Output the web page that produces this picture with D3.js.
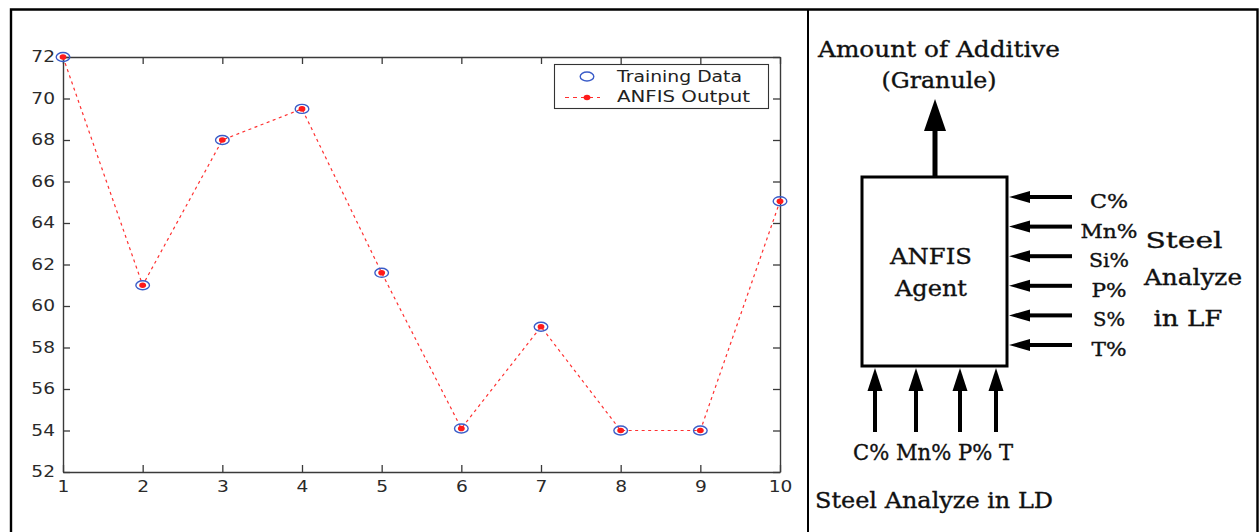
<!DOCTYPE html>
<html><head><meta charset="utf-8">
<script src="https://cdn.jsdelivr.net/npm/d3@7"></script>
<style>
html,body{margin:0;padding:0;background:#fff;}
svg{display:block;}
</style></head>
<body>
<svg id="fig" width="1259" height="532"></svg>
<script>
// ---- data ----
const xValues = [1,2,3,4,5,6,7,8,9,10];
const trainingData = [72, 61, 68, 69.5, 61.6, 54.1, 59, 54, 54, 65.05];
const anfisOutput  = [72, 61, 68, 69.5, 61.6, 54.1, 59, 54, 54, 65.05];
const xTicks = [1,2,3,4,5,6,7,8,9,10];
const yTicks = [52,54,56,58,60,62,64,66,68,70,72];
const legendLabels = ["Training Data", "ANFIS Output"];
// diagram labels
const lfInputs = ["C%", "Mn%", "Si%", "P%", "S%", "T%"];
const ldInputs = ["C%", "Mn%", "P%", "T"];

const svg = d3.select("#fig");

// outer frame (no bottom edge)
const frame = svg.append("g").attr("stroke","#000").attr("fill","none");
frame.append("path").attr("d","M11,532V9.5H1257.5V532").attr("stroke-width",2.4);
frame.append("line").attr("x1",808).attr("x2",808).attr("y1",9).attr("y2",532).attr("stroke-width",2);

// ---- chart ----
const x = d3.scaleLinear().domain([1,10]).range([63,780]);
const y = d3.scaleLinear().domain([52,72]).range([472,57]);
const axisColor = "#3a3a3a";

function stretch(sel, f){
  sel.each(function(){
    const w = this.getComputedTextLength();
    d3.select(this).attr("textLength", w*f).attr("lengthAdjust","spacingAndGlyphs");
  });
}

const gx = svg.append("g").attr("transform","translate(0,472)")
  .call(d3.axisBottom(x).tickValues(xTicks).tickFormat(d3.format("d")).tickSizeInner(-7).tickSizeOuter(0).tickPadding(9));
const gy = svg.append("g").attr("transform","translate(63,0)")
  .call(d3.axisLeft(y).tickValues(yTicks).tickFormat(d3.format("d")).tickSizeInner(-7).tickSizeOuter(0).tickPadding(8));
const gt = svg.append("g").attr("transform","translate(0,57)")
  .call(d3.axisTop(x).tickValues(xTicks).tickFormat("").tickSizeInner(-7).tickSizeOuter(0));
const gr = svg.append("g").attr("transform","translate(780,0)")
  .call(d3.axisRight(y).tickValues(yTicks).tickFormat("").tickSizeInner(-7).tickSizeOuter(0));
[gx,gy,gt,gr].forEach(g=>{
  g.select(".domain").attr("stroke",axisColor).attr("stroke-width",1.4);
  g.selectAll(".tick line").attr("stroke",axisColor).attr("stroke-width",1.3);
  g.selectAll("text").attr("fill","#2a2a2a").style("font-family","'DejaVu Sans'").style("font-size","15.5px");
});
stretch(gx.selectAll("text"), 1.2);
stretch(gy.selectAll("text"), 1.2);

// ANFIS output dashed line
const pts = xValues.map((d,i)=>({x:d, t:trainingData[i], a:anfisOutput[i]}));
svg.append("path").datum(pts)
  .attr("d", d3.line().x(d=>x(d.x)).y(d=>y(d.a)))
  .attr("fill","none").attr("stroke","#ff3030").attr("stroke-width",1.2).attr("stroke-dasharray","3,3.5");
// training markers
svg.append("g").selectAll("ellipse").data(pts).join("ellipse")
  .attr("cx",d=>x(d.x)).attr("cy",d=>y(d.t)).attr("rx",6.8).attr("ry",4.5)
  .attr("fill","none").attr("stroke","#3a5cc8").attr("stroke-width",1.4);
// output dots
svg.append("g").selectAll("ellipse").data(pts).join("ellipse")
  .attr("cx",d=>x(d.x)).attr("cy",d=>y(d.a)).attr("rx",3.4).attr("ry",2.8)
  .attr("fill","#ff1a1a");

// legend
const lg = svg.append("g");
lg.append("rect").attr("x",554.5).attr("y",64.5).attr("width",214).attr("height",44)
  .attr("fill","#fff").attr("stroke","#333").attr("stroke-width",1.1);
lg.append("ellipse").attr("cx",587).attr("cy",76.5).attr("rx",6.8).attr("ry",4.5)
  .attr("fill","none").attr("stroke","#3a5cc8").attr("stroke-width",1.4);
lg.append("line").attr("x1",565).attr("x2",600).attr("y1",97.5).attr("y2",97.5)
  .attr("stroke","#ff3030").attr("stroke-width",1.2).attr("stroke-dasharray","4,4");
lg.append("ellipse").attr("cx",587).attr("cy",97.5).attr("rx",3.4).attr("ry",2.8).attr("fill","#ff1a1a");
const lt = lg.selectAll("text.leg").data(legendLabels).join("text").attr("class","leg")
  .attr("x",617).attr("y",(d,i)=>i?102:82)
  .attr("fill","#222").style("font-family","'DejaVu Sans'").style("font-size","16.5px")
  .text(d=>d);
lt.attr("textLength",(d,i)=>i?133:125).attr("lengthAdjust","spacingAndGlyphs");

// ---- diagram ----
const dg = svg.append("g");
const serif = "'DejaVu Serif'";
function label(txt, cx, base, size, width){
  return dg.append("text").attr("x",cx).attr("y",base).attr("text-anchor","middle")
    .attr("fill","#111").attr("stroke","#111").attr("stroke-width",0.35)
    .style("font-family",serif).style("font-size",size+"px")
    .attr("textLength",width).attr("lengthAdjust","spacingAndGlyphs").text(txt);
}
label("Amount of Additive", 939, 57, 22, 242);
label("(Granule)", 939, 88, 22, 115);
label("ANFIS", 931, 264, 22, 82);
label("Agent", 931, 296, 22, 72);
label("Steel", 1184, 248, 21.5, 77);
label("Analyze", 1193, 285, 21.5, 98);
label("in LF", 1188, 326, 21.5, 69);
label("C% Mn% P% T", 933, 460, 21.5, 160);
label("Steel Analyze in LD", 934, 508, 22.5, 238);

// box
dg.append("rect").attr("x",862).attr("y",177).attr("width",145).attr("height",189)
  .attr("fill","none").attr("stroke","#000").attr("stroke-width",3);

// top output arrow
dg.append("rect").attr("x",932.5).attr("y",128).attr("width",5).attr("height",49).attr("fill","#000");
dg.append("path").attr("d","M935,99L946,131L924,131Z").attr("fill","#000");

// LF inputs (right side)
const lfY = d3.scalePoint().domain(lfInputs).range([197,345]);
const lfW = [38,57,40,35,32,35];
lfInputs.forEach((d,i)=>{
  const yy = lfY(d);
  dg.append("rect").attr("x",1026).attr("y",yy-2).attr("width",46).attr("height",4).attr("fill","#000");
  dg.append("path").attr("d",`M1009,${yy}L1030,${yy-6}L1030,${yy+6}Z`).attr("fill","#000");
  label(d, 1109, yy+11, 18, lfW[i]);
});

// LD inputs (bottom)
const ldX = [875, 916, 960, 996];
ldInputs.forEach((d,i)=>{
  const xx = ldX[i];
  dg.append("rect").attr("x",xx-2).attr("y",386).attr("width",4).attr("height",46).attr("fill","#000");
  dg.append("path").attr("d",`M${xx},368L${xx+7.5},391L${xx-7.5},391Z`).attr("fill","#000");
});
</script>
</body></html>
